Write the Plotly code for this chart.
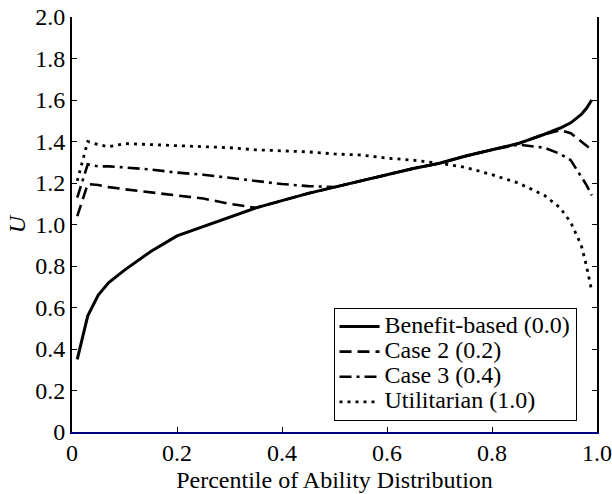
import plotly.graph_objects as go

x_pct = [0.01, 0.03, 0.05, 0.07, 0.1, 0.15, 0.2, 0.25, 0.3, 0.35, 0.4, 0.45, 0.5,
         0.55, 0.6, 0.65, 0.7, 0.75, 0.8, 0.85, 0.9, 0.93, 0.95, 0.97, 0.98, 0.99]

benefit_based = [0.35, 0.56, 0.66, 0.72, 0.78, 0.87, 0.945, 0.99, 1.035, 1.08, 1.115, 1.15, 1.18,
                 1.21, 1.24, 1.27, 1.295, 1.33, 1.36, 1.39, 1.435, 1.465, 1.49, 1.53, 1.56, 1.60]
case2 = [1.04, 1.195, 1.19, 1.18, 1.17, 1.155, 1.14, 1.125, 1.10, 1.08, 1.115, 1.15, 1.18,
         1.21, 1.24, 1.27, 1.295, 1.33, 1.36, 1.39, 1.435, 1.455, 1.44, 1.40, 1.38, 1.36]
case3 = [1.13, 1.29, 1.28, 1.28, 1.275, 1.265, 1.25, 1.24, 1.225, 1.21, 1.195, 1.185, 1.18,
         1.21, 1.24, 1.27, 1.295, 1.33, 1.36, 1.385, 1.37, 1.34, 1.31, 1.23, 1.19, 1.14]
utilitarian = [1.21, 1.40, 1.385, 1.375, 1.39, 1.385, 1.38, 1.375, 1.37, 1.36, 1.355, 1.35, 1.34,
               1.335, 1.32, 1.31, 1.295, 1.275, 1.24, 1.20, 1.14, 1.08, 1.01, 0.90, 0.80, 0.68]

series_names = ["Benefit-based (0.0)", "Case 2 (0.2)", "Case 3 (0.4)", "Utilitarian (1.0)"]

x_tickvals = [0, 0.2, 0.4, 0.6, 0.8, 1.0]
x_ticktext = ["0", "0.2", "0.4", "0.6", "0.8", "1.0"]
y_tickvals = [0, 0.2, 0.4, 0.6, 0.8, 1.0, 1.2, 1.4, 1.6, 1.8, 2.0]
y_ticktext = ["0", "0.2", "0.4", "0.6", "0.8", "1.0", "1.2", "1.4", "1.6", "1.8", "2.0"]

FONT = "Liberation Serif, Times New Roman, serif"
FS = 24

styles = [
    dict(width=3, dash="solid"),
    dict(width=2.6, dash="12px,6px"),
    dict(width=2.6, dash="12px,5px,3px,5px"),
    dict(width=2.8, dash="3px,5px"),
]

fig = go.Figure()
for name, ys, st in zip(series_names, [benefit_based, case2, case3, utilitarian], styles):
    fig.add_trace(go.Scatter(x=x_pct, y=ys, mode="lines",
                             name=f'<span style="font-size:{FS}px">{name}</span>',
                             line=dict(color="black", **st)))

fig.update_layout(
    width=612, height=494,
    margin=dict(l=72, r=15, t=17, b=62, autoexpand=False),
    paper_bgcolor="white", plot_bgcolor="white",
    font=dict(family=FONT, size=FS, color="black"),
    showlegend=True,
    legend=dict(x=0.961, y=0.0265, xanchor="right", yanchor="bottom",
                bordercolor="black", borderwidth=1, bgcolor="white",
                font=dict(family=FONT, size=17), tracegroupgap=0,
                itemwidth=40),
    xaxis=dict(range=[0, 1], tickvals=x_tickvals, ticktext=x_ticktext,
               ticks="inside", ticklen=5, tickcolor="black", automargin=False,
               ticklabelstandoff=-2,
               showline=True, linecolor="#000080", linewidth=2, mirror=False,
               showgrid=False, zeroline=False,
               title=dict(text="Percentile of Ability Distribution", standoff=6,
                          font=dict(family=FONT, size=FS))),
    xaxis2=dict(range=[0, 1], overlaying="x", side="top", tickvals=x_tickvals,
                showticklabels=False, ticks="inside", ticklen=5, tickcolor="black",
                showline=True, linecolor="black", linewidth=1.5, automargin=False,
                showgrid=False, zeroline=False),
    yaxis=dict(range=[0, 2], tickvals=y_tickvals, ticktext=y_ticktext,
               ticks="inside", ticklen=5, tickcolor="black", automargin=False,
               showline=True, linecolor="black", linewidth=2, mirror="ticks",
               showgrid=False, zeroline=False,
               title=dict(text="<i>U</i>", standoff=3, font=dict(family=FONT, size=FS))),
)

fig.write_html("out.html", config={"displayModeBar": False},
               post_script="document.body.style.margin='0';")
